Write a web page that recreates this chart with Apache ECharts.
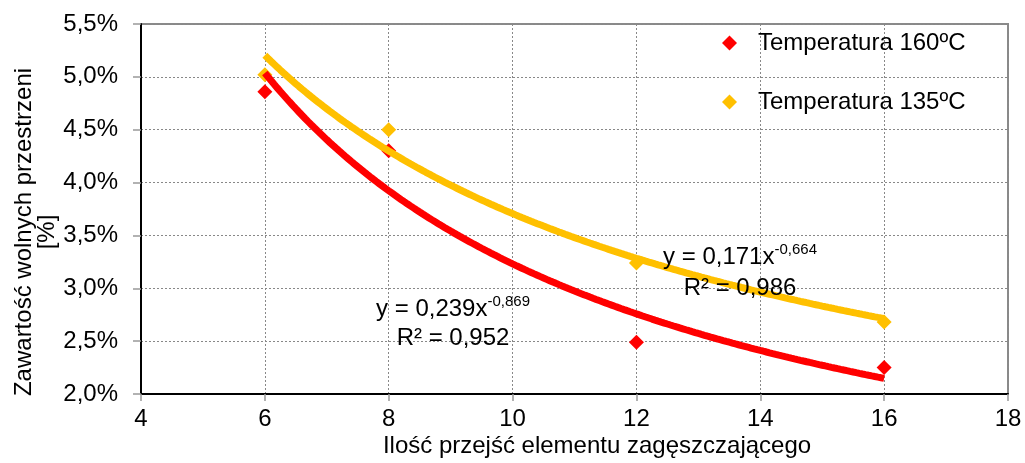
<!DOCTYPE html>
<html>
<head>
<meta charset="utf-8">
<script src="https://cdn.jsdelivr.net/npm/echarts@6/dist/echarts.min.js"></script>
<style>
  html, body { margin: 0; padding: 0; background: #fff; }
  #chart { width: 1025px; height: 463px; }
</style>
</head>
<body>
<div id="chart"></div>
<script>
// Number of compactor passes (x) and void content in % (y)
const passes = [6, 8, 12, 16];
const voids160 = [4.86, 4.30, 2.49, 2.25];
const voids135 = [5.02, 4.50, 3.24, 2.68];
const seriesNames = ['Temperatura 160ºC', 'Temperatura 135ºC'];

// Power trendlines y = a * x^b (y as a fraction), with their R²
const fit160 = [0.239, -0.869, 0.952];
const fit135 = [0.171, -0.664, 0.986];

const xRange = [4, 18, 2];
const yRange = [2.0, 5.5, 0.5];

const RED = '#FF0000';
const GOLD = '#FFC000';
const FONT = '"Liberation Sans", Arial, Helvetica, sans-serif';
const FS = 24;

const comma = (v, d) => v.toFixed(d).replace('.', ',');

// Trendline drawn from its equation over the measured x span
function trend(fit) {
  const pts = [];
  const x0 = passes[0], x1 = passes[passes.length - 1];
  for (let i = 0; i <= 200; i++) {
    const x = x0 + (x1 - x0) * i / 200;
    pts.push([x, 100 * fit[0] * Math.pow(x, fit[1])]);
  }
  return pts;
}

function eqRich(fit) {
  return '{m|y = ' + comma(fit[0], 3) + 'x}{s|' + comma(fit[1], 3) + '}';
}
function r2Text(fit) {
  return 'R² = ' + comma(fit[2], 3);
}

const chart = echarts.init(document.getElementById('chart'), null, { renderer: 'canvas' });

const eqStyle = {
  rich: {
    m: { fontSize: FS, fontFamily: FONT, fill: '#000' },
    s: { fontSize: 15, fontFamily: FONT, fill: '#000', padding: [0, 0, 14, 0] }
  },
  align: 'center',
  verticalAlign: 'middle'
};

chart.setOption({
  animation: false,
  backgroundColor: '#fff',
  grid: {
    left: 141, right: 17, top: 24, bottom: 69,
    show: true, borderColor: '#8a8a8a', borderWidth: 2, backgroundColor: 'transparent'
  },
  legend: {
    orient: 'vertical',
    left: 717, top: 26,
    icon: 'diamond',
    itemWidth: 15, itemHeight: 15,
    itemGap: 35,
    data: seriesNames,
    textStyle: { fontFamily: FONT, fontSize: FS, color: '#000', lineHeight: 24, padding: [0, 0, 0, 16] }
  },
  xAxis: {
    type: 'value',
    min: xRange[0], max: xRange[1], interval: xRange[2],
    axisLine: { show: true, onZero: false, lineStyle: { color: '#000', width: 2 } },
    axisTick: { show: true, inside: false, length: 7, lineStyle: { color: '#999', width: 1.5 } },
    axisLabel: { fontFamily: FONT, fontSize: FS, color: '#000', margin: 13 },
    splitLine: { show: true, lineStyle: { color: '#888', width: 1, type: [2, 2] } }
  },
  yAxis: {
    type: 'value',
    min: yRange[0], max: yRange[1], interval: yRange[2],
    axisLine: { show: true, onZero: false, lineStyle: { color: '#000', width: 2 } },
    axisTick: { show: true, inside: false, length: 8, lineStyle: { color: '#999', width: 1.5 } },
    axisLabel: {
      fontFamily: FONT, fontSize: FS, color: '#000', margin: 23,
      formatter: v => comma(v, 1) + '%'
    },
    splitLine: { show: true, lineStyle: { color: '#888', width: 1, type: [2, 2] } }
  },
  series: [
    {
      name: seriesNames[0], type: 'scatter', z: 2,
      symbol: 'diamond', symbolSize: 15,
      itemStyle: { color: RED, opacity: 1 },
      data: passes.map((x, i) => [x, voids160[i]])
    },
    {
      name: seriesNames[1], type: 'scatter', z: 2,
      symbol: 'diamond', symbolSize: 15,
      itemStyle: { color: GOLD, opacity: 1 },
      data: passes.map((x, i) => [x, voids135[i]])
    },
    {
      name: 'trend160', type: 'line', z: 3, showSymbol: false, symbol: 'none',
      lineStyle: { color: RED, width: 7 },
      data: trend(fit160)
    },
    {
      name: 'trend135', type: 'line', z: 4, showSymbol: false, symbol: 'none',
      lineStyle: { color: GOLD, width: 7 },
      data: trend(fit135)
    }
  ],
  graphic: [
    {
      type: 'text', x: 36, y: 232, rotation: Math.PI / 2,
      style: {
        text: 'Zawartość wolnych przestrzeni\n[%]',
        fontFamily: FONT, fontSize: FS, lineHeight: 23, fill: '#000',
        align: 'center', verticalAlign: 'middle'
      }
    },
    {
      type: 'text', x: 597, y: 446,
      style: {
        text: 'Ilość przejść elementu zagęszczającego',
        fontFamily: FONT, fontSize: FS, fill: '#000',
        align: 'center', verticalAlign: 'middle'
      }
    },
    { type: 'text', x: 740, y: 257, z: 10, style: Object.assign({ text: eqRich(fit135) }, eqStyle) },
    { type: 'text', x: 740, y: 288, z: 10, style: { text: r2Text(fit135), fontFamily: FONT, fontSize: FS, fill: '#000', align: 'center', verticalAlign: 'middle' } },
    { type: 'text', x: 453, y: 309, z: 10, style: Object.assign({ text: eqRich(fit160) }, eqStyle) },
    { type: 'text', x: 453, y: 338, z: 10, style: { text: r2Text(fit160), fontFamily: FONT, fontSize: FS, fill: '#000', align: 'center', verticalAlign: 'middle' } }
  ]
});
</script>
</body>
</html>
